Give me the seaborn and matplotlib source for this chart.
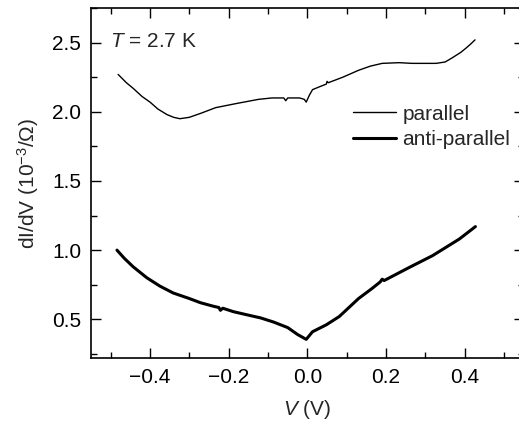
import matplotlib
matplotlib.use("Agg")
import matplotlib.pyplot as plt
from matplotlib.ticker import MultipleLocator
import seaborn as sns
import pandas as pd

# Differential conductance vs bias voltage at T = 2.7 K
v_parallel = [-0.481, -0.474, -0.46, -0.443, -0.42, -0.40, -0.38, -0.357, -0.34, -0.324,
              -0.30, -0.27, -0.233, -0.18, -0.124, -0.09, -0.06, -0.055, -0.05, -0.02,
              -0.008, -0.003, 0.005, 0.013, 0.03, 0.048, 0.05, 0.053, 0.09, 0.13, 0.16,
              0.19, 0.233, 0.266, 0.30, 0.327, 0.35, 0.368, 0.39, 0.403, 0.415, 0.426]
g_parallel = [2.27, 2.25, 2.21, 2.17, 2.11, 2.07, 2.02, 1.98, 1.96, 1.95,
              1.96, 1.99, 2.03, 2.06, 2.09, 2.10, 2.10, 2.08, 2.10, 2.10,
              2.09, 2.07, 2.12, 2.16, 2.18, 2.20, 2.22, 2.21, 2.25, 2.30, 2.33,
              2.35, 2.355, 2.35, 2.35, 2.35, 2.36, 2.39, 2.43, 2.46, 2.49, 2.52]

v_antiparallel = [-0.484, -0.465, -0.443, -0.408, -0.375, -0.341, -0.30, -0.272, -0.24,
                  -0.225, -0.221, -0.215, -0.188, -0.15, -0.119, -0.086, -0.05, -0.025,
                  -0.003, 0.013, 0.048, 0.081, 0.13, 0.163, 0.185, 0.19, 0.195, 0.259,
                  0.318, 0.386, 0.427]
g_antiparallel = [1.00, 0.94, 0.88, 0.80, 0.74, 0.69, 0.65, 0.62, 0.595,
                  0.585, 0.565, 0.58, 0.555, 0.53, 0.51, 0.48, 0.44, 0.39,
                  0.355, 0.41, 0.46, 0.52, 0.65, 0.72, 0.77, 0.79, 0.78, 0.875,
                  0.96, 1.08, 1.17]

series_labels = ["parallel", "anti-parallel"]
line_widths = [1.0, 2.2]

sns.set_style("ticks")
plt.rcParams["font.family"] = ["Liberation Sans", "DejaVu Sans"]
plt.rcParams["mathtext.fontset"] = "custom"
plt.rcParams["mathtext.it"] = "Liberation Sans:italic"
plt.rcParams["mathtext.rm"] = "Liberation Sans"

FS = 15

fig = plt.figure(figsize=(5.19, 4.25), dpi=100)
ax = fig.add_axes([0.1753, 0.1576, 0.834, 0.8235])

frames = [
    pd.DataFrame({"V": v_parallel, "G": g_parallel}),
    pd.DataFrame({"V": v_antiparallel, "G": g_antiparallel}),
]
for df, lab, lw in zip(frames, series_labels, line_widths):
    sns.lineplot(data=df, x="V", y="G", ax=ax, color="black", linewidth=lw,
                 sort=False, estimator=None, label=lab)

ax.set_xlim(-0.55, 0.55)
ax.set_ylim(0.22, 2.75)
ax.xaxis.set_major_locator(MultipleLocator(0.2))
ax.xaxis.set_minor_locator(MultipleLocator(0.1))
ax.yaxis.set_major_locator(MultipleLocator(0.5))
ax.yaxis.set_minor_locator(MultipleLocator(0.25))
ax.xaxis.set_major_formatter(plt.FuncFormatter(lambda v, p: f"{v:.1f}".replace("-", "\u2212")))
ax.yaxis.set_major_formatter(plt.FuncFormatter(lambda v, p: f"{v:.1f}"))
ax.tick_params(which="both", direction="in", top=True, right=True, colors="black",
               labelsize=FS, width=1.0)
ax.tick_params(which="major", length=7, pad=7)
ax.tick_params(which="minor", length=4)
for s in ax.spines.values():
    s.set_linewidth(1.2)
    s.set_color("black")

ax.set_xlabel("$V$ (V)", fontsize=FS, labelpad=8)
ax.set_ylabel("dI/dV (10$^{\u22123}$/\u03a9)", fontsize=FS, labelpad=8)

ax.text(0.045, 0.905, "$T$ = 2.7 K", transform=ax.transAxes, fontsize=FS,
        ha="left", va="center")

leg = ax.legend(loc="upper left", bbox_to_anchor=(0.585, 0.748), frameon=False,
                fontsize=FS, handlelength=2.1, handletextpad=0.3,
                labelspacing=0.32, borderaxespad=0)

fig.savefig("out.png", dpi=100)
